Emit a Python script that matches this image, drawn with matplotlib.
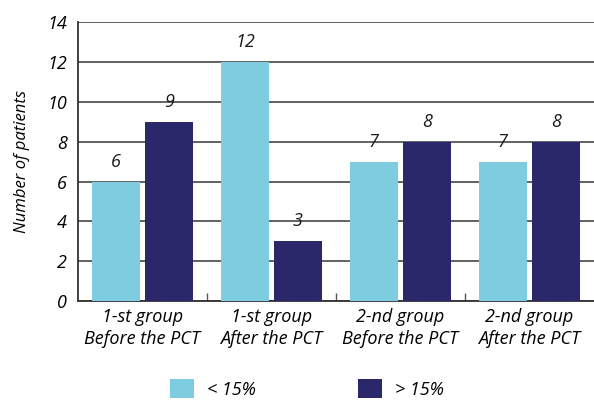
import matplotlib
matplotlib.use("Agg")
import matplotlib.pyplot as plt
from matplotlib.patches import Patch
import numpy as np

categories = ["1-st group\nBefore the PCT", "1-st group\nAfter the PCT",
              "2-nd group\nBefore the PCT", "2-nd group\nAfter the PCT"]
below = [6, 12, 7, 7]
above = [9, 3, 8, 8]
series_names = ["< 15%", "> 15%"]
colors = ["#7ECCE0", "#2B276B"]

plt.rcParams['font.family'] = ['Open Sans', 'DejaVu Sans']
plt.rcParams['font.style'] = 'italic'

fig = plt.figure(figsize=(5.94, 4.01), dpi=100)
ax = fig.add_axes([0.131, 0.249, 0.869, 0.696])

x = np.arange(len(categories))
w = 0.372
gap = 0.04
b1 = ax.bar(x - w/2 - gap/2, below, w, color=colors[0], zorder=3)
b2 = ax.bar(x + w/2 + gap/2, above, w, color=colors[1], zorder=3)

for bars, vals in ((b1, below), (b2, above)):
    for r, v in zip(bars, vals):
        ax.text(r.get_x() + r.get_width()/2, v + 0.55, str(v), ha='center', va='bottom',
                fontsize=13, style='italic', color='#1a1a1a')

ax.set_xlim(-0.5, len(categories) - 0.5)
ax.set_ylim(0, 14)
ax.set_yticks(range(0, 15, 2))
ax.yaxis.grid(True, color='#555555', linewidth=1.3, zorder=0)
ax.set_axisbelow(True)
ax.tick_params(axis='y', length=0, labelsize=13, pad=8)
for t in ax.get_yticklabels():
    t.set_style('italic')

ax.set_xticks(x)
ax.set_xticklabels(categories, fontsize=13, style='italic', linespacing=1.25)
ax.tick_params(axis='x', which='major', length=0, pad=5)
ax.set_xticks(np.arange(0.5, len(categories) - 0.5, 1), minor=True)
ax.tick_params(axis='x', which='minor', direction='in', length=6, width=1, color='#555555')

for s in ['top', 'right']:
    ax.spines[s].set_visible(False)
ax.spines['left'].set_color('#333333')
ax.spines['left'].set_linewidth(1.3)
ax.spines['bottom'].set_color('#333333')
ax.spines['bottom'].set_linewidth(1.3)

ax.set_ylabel("Number of patients", fontsize=12, style='italic', labelpad=12)

handles = [Patch(facecolor=c, edgecolor='none') for c in colors]
fig.legend(handles, series_names, loc='lower center', bbox_to_anchor=(0.5165, -0.035),
           ncol=2, frameon=False, fontsize=13, handlelength=1.35, handleheight=1.2,
           columnspacing=5.65, handletextpad=0.7)

fig.savefig("out.png", dpi=100)
